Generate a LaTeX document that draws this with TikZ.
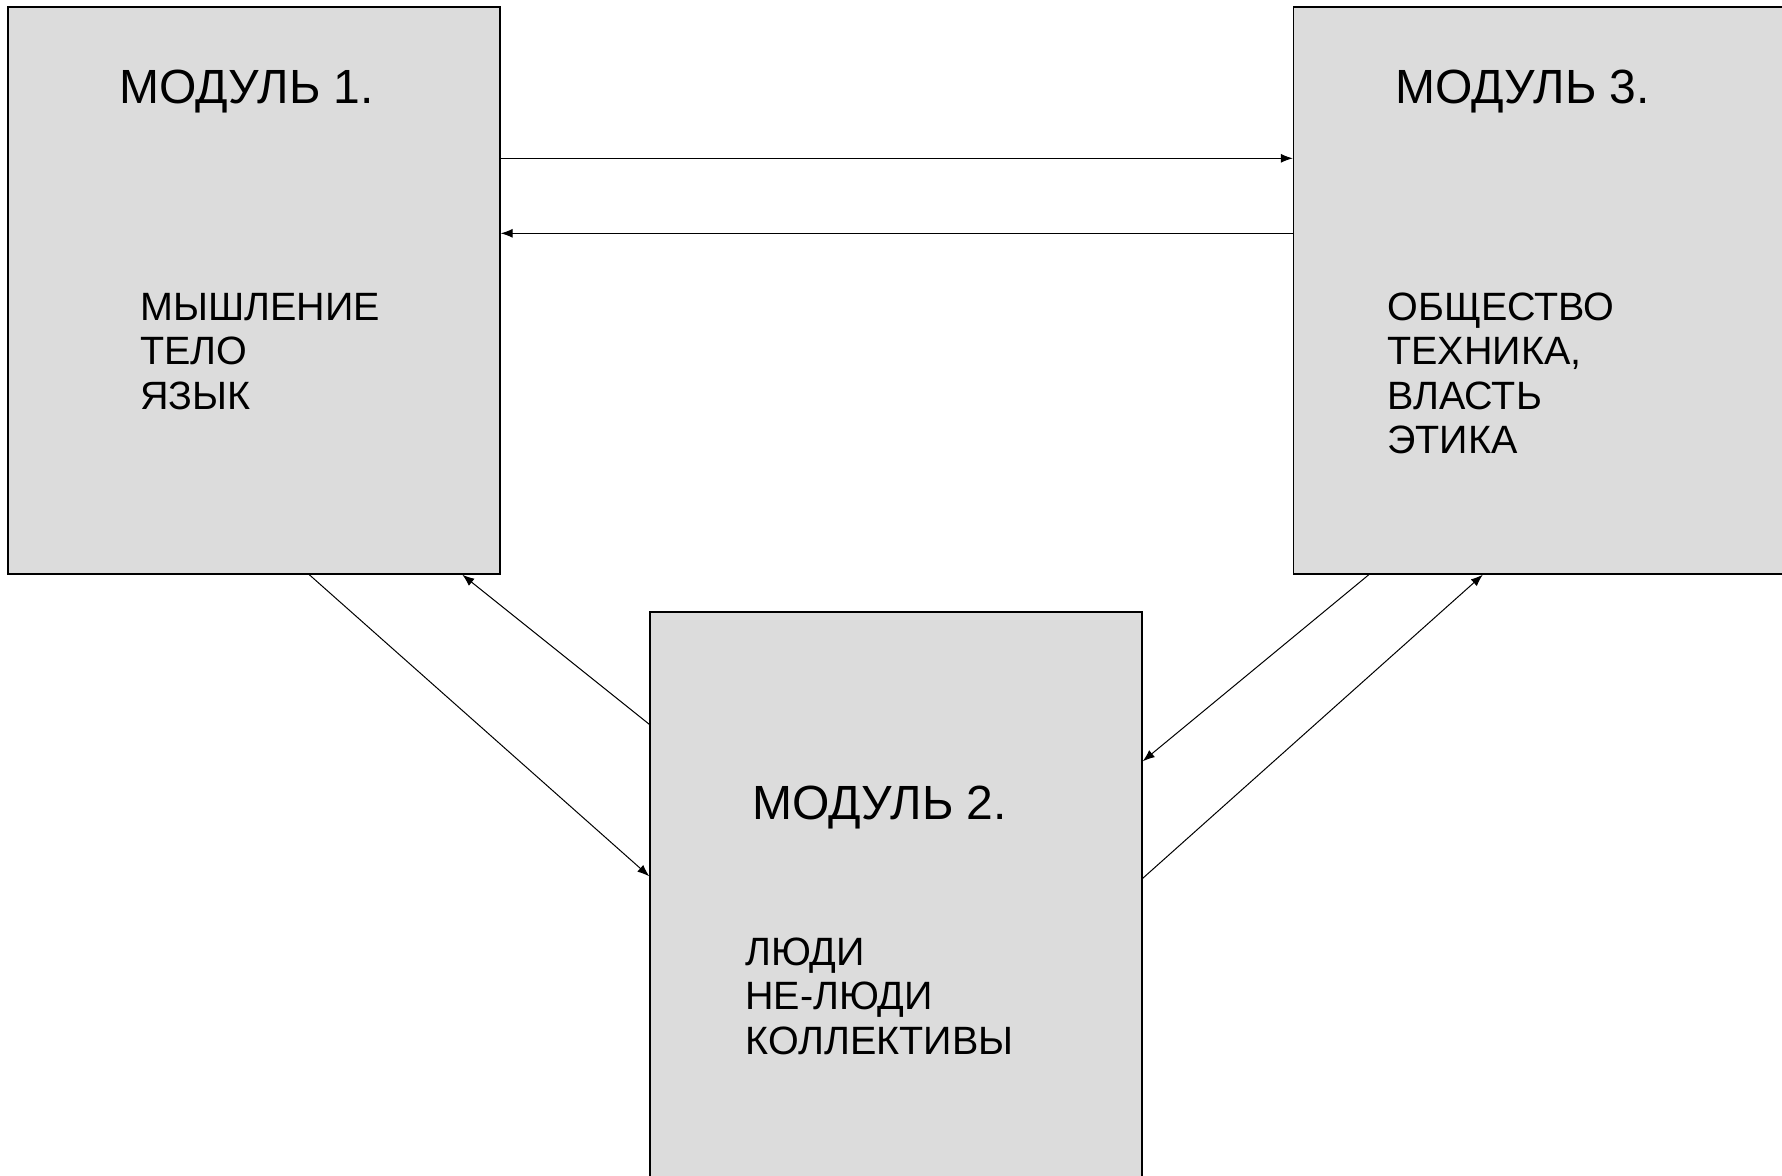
\documentclass[tikz,border=0pt]{standalone}
\usepackage{fontspec}
\setmainfont{Liberation Sans}
\usepackage{tikz}
\usetikzlibrary{arrows.meta}
\definecolor{boxgray}{HTML}{DCDCDC}

\begin{document}
\begin{tikzpicture}[
		x=0.5pt, y=-0.5pt,
		>={Latex[length=6pt,width=4.5pt]},
		module/.style={
			rectangle,
			draw=black,
			line width=0.7pt,
			fill=boxgray,
			minimum width=246pt,
			minimum height=283.5pt,
			inner sep=0pt
		},
		title/.style={
			anchor=base west,
			inner sep=0pt,
			font=\fontsize{24}{29}\selectfont
		},
		topics/.style={
			anchor=base west,
			inner sep=0pt,
			font=\fontsize{19.75}{22.25}\selectfont
		},
		link/.style={
			->,
			line width=0.5pt
		}
		]
		\useasboundingbox (0,0) rectangle (1782,1175);
		
		% We start by placing the blocks
		\node [module] (mod1) at (254,290.5) {};
		\node [module] (mod3) at (1539.5,290.5) {};
		\node [module] (mod2) at (896,895.5) {};
		
		% titles and topics
		\node [title] (title1) at (119,103) {МОДУЛЬ 1.};
		\node [topics] (topics1) at (140,320)
		{%
			\begin{tabular}[t]{@{}l@{}}
			МЫШЛЕНИЕ\\
			ТЕЛО\\
			ЯЗЫК
			\end{tabular}
		};
		
		\node [title] (title3) at (1395,103) {МОДУЛЬ 3.};
		\node [topics] (topics3) at (1387,320)
		{%
			\begin{tabular}[t]{@{}l@{}}
			ОБЩЕСТВО\\
			ТЕХНИКА,\\
			ВЛАСТЬ\\
			ЭТИКА
			\end{tabular}
		};
		
		\node [title] (title2) at (752,819) {МОДУЛЬ 2.};
		\node [topics] (topics2) at (745,965)
		{%
			\begin{tabular}[t]{@{}l@{}}
			ЛЮДИ\\
			НЕ-ЛЮДИ\\
			КОЛЛЕКТИВЫ
			\end{tabular}
		};
		
		\draw [link] ([yshift=-76pt]mod1.north east) -- ([yshift=-76pt]mod3.north west);
		\draw [link] ([yshift=-113.5pt]mod3.north west) -- ([yshift=-113.5pt]mod1.north east);
		\draw [link] ([xshift=151pt]mod1.south west) -- ([yshift=-132.5pt]mod2.north west);
		\draw [link] ([yshift=-56.5pt]mod2.north west) -- ([xshift=227.5pt]mod1.south west);
		\draw [link] ([xshift=38pt]mod3.south west) -- ([yshift=-75pt]mod2.north east);
		\draw [link] ([yshift=-133.5pt]mod2.north east) -- ([xshift=95pt]mod3.south west);
		
\end{tikzpicture}
\end{document}
